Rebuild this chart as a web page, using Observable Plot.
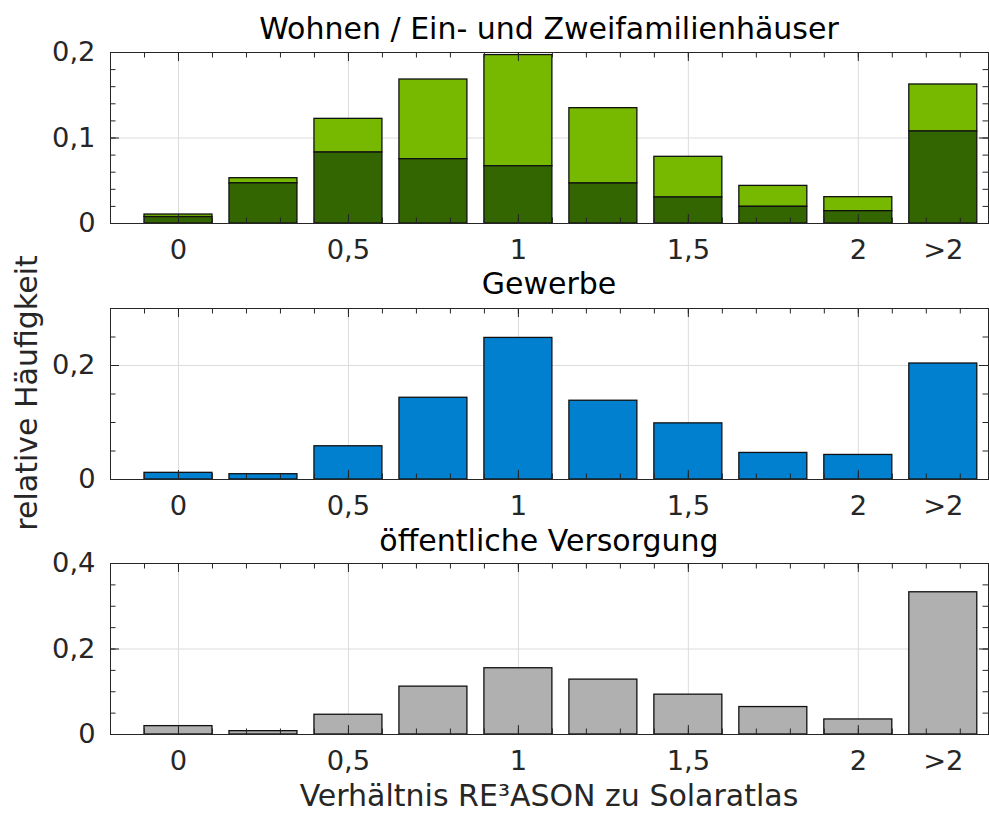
<!DOCTYPE html>
<html><head><meta charset="utf-8">
<script src="https://cdn.jsdelivr.net/npm/d3@7"></script>
<script src="https://cdn.jsdelivr.net/npm/@observablehq/plot@0.6"></script>
<style>
body{margin:0;background:#fff;}
#chart{position:relative;width:989px;height:814px;font-family:"DejaVu Sans",sans-serif;}
#chart svg{position:absolute;left:0;}
</style></head><body><div id="chart"></div>
<script>
// ---- data ----
const positions = [0, 0.25, 0.5, 0.75, 1, 1.25, 1.5, 1.75, 2, 2.25];
const xTickValues = [0, 0.5, 1, 1.5, 2, 2.25];
const xTickLabels = ["0", "0,5", "1", "1,5", "2", ">2"];
const wohnenLower = [0.0075, 0.047, 0.083, 0.0752, 0.067, 0.0468, 0.0304, 0.0195, 0.0144, 0.1076];
const wohnenTotal = [0.0105, 0.053, 0.1224, 0.1684, 0.197, 0.1349, 0.078, 0.044, 0.0308, 0.1626];
const gewerbe = [0.0117, 0.0093, 0.0583, 0.1434, 0.2484, 0.1382, 0.0985, 0.0466, 0.0431, 0.2035];
const oeffentlich = [0.0196, 0.0078, 0.0462, 0.112, 0.155, 0.1284, 0.0932, 0.0642, 0.0352, 0.3327];
const panelTitles = ["Wohnen / Ein- und Zweifamilienhäuser", "Gewerbe", "öffentliche Versorgung"];
const yLabel = "relative Häufigkeit";
const xLabel = "Verhältnis RE³ASON zu Solaratlas";
const yTicks1 = [0, 0.1, 0.2], yTickLabels1 = ["0", "0,1", "0,2"];
const yTicks2 = [0, 0.2], yTickLabels2 = ["0", "0,2"];
const yTicks3 = [0, 0.2, 0.4], yTickLabels3 = ["0", "0,2", "0,4"];

const colLight = "#77b800", colDark = "#336600", colBlue = "#0080cf", colGray = "#b0b0b0";
const axisCol = "#262626", gridCol = "#dcdcdc";
const W = 989, ML = 110, MR = 1, MT = 20, MB = 60;
const innerW = W - ML - MR;
const halfW = 0.1;

const chart = document.getElementById("chart");

function panel({top, bottom, ymax, yTicks, yTickLabels, yMinorStep, bars}) {
  const innerH = bottom - top;
  const H = innerH + MT + MB;
  const minorX = d3.range(-1, 24).map(i => i / 10);
  const minorY = d3.range(0, Math.round(ymax / yMinorStep) + 1).map(i => i * yMinorStep);
  const majLen = 9, minLen = 5.5;
  const p = Plot.plot({
    width: W, height: H,
    marginLeft: ML, marginRight: MR, marginTop: MT, marginBottom: MB,
    style: {fontFamily: "DejaVu Sans", fontSize: "27.3px", color: axisCol, background: "transparent", overflow: "visible"},
    x: {domain: [-0.2, 2.383]},
    y: {domain: [0, ymax]},
    marks: [
      Plot.ruleX([0, 0.5, 1, 1.5, 2], {stroke: gridCol, strokeWidth: 1}),
      Plot.ruleY(yTicks.filter(v => v > 0 && v < ymax), {stroke: gridCol, strokeWidth: 1}),
      ...bars,
      // x ticks bottom / top (inward)
      Plot.tickX(minorX, {x: d => d, insetTop: innerH - minLen, stroke: axisCol}),
      Plot.tickX(minorX, {x: d => d, insetBottom: innerH - minLen, stroke: axisCol}),
      Plot.tickX([0, 0.5, 1, 1.5, 2], {x: d => d, insetTop: innerH - majLen, stroke: axisCol}),
      Plot.tickX([0, 0.5, 1, 1.5, 2], {x: d => d, insetBottom: innerH - majLen, stroke: axisCol}),
      // y ticks left / right (inward)
      Plot.tickY(minorY, {y: d => d, insetRight: innerW - minLen, stroke: axisCol}),
      Plot.tickY(minorY, {y: d => d, insetLeft: innerW - minLen, stroke: axisCol}),
      Plot.tickY(yTicks, {y: d => d, insetRight: innerW - majLen, stroke: axisCol}),
      Plot.tickY(yTicks, {y: d => d, insetLeft: innerW - majLen, stroke: axisCol}),
      Plot.frame({stroke: axisCol, strokeWidth: 1}),
      Plot.axisX(xTickValues, {tickSize: 0, tickPadding: 16, fill: axisCol,
        tickFormat: d => xTickLabels[xTickValues.indexOf(d)], label: null}),
      Plot.axisY(yTicks, {tickSize: 0, tickPadding: 15, fill: axisCol,
        tickFormat: d => yTickLabels[yTicks.indexOf(d)], label: null})
    ]
  });
  p.style.top = (top - MT) + "px";
  chart.appendChild(p);
}

const barOpts = {stroke: "#111", strokeWidth: 1.3};
const rows1 = positions.map((x, i) => ({x, lower: wohnenLower[i], total: wohnenTotal[i]}));
const rows2 = positions.map((x, i) => ({x, v: gewerbe[i]}));
const rows3 = positions.map((x, i) => ({x, v: oeffentlich[i]}));

panel({top: 52, bottom: 223, ymax: 0.2, yTicks: yTicks1, yTickLabels: yTickLabels1, yMinorStep: 0.02,
  bars: [
    Plot.rectY(rows1, {x1: d => d.x - halfW, x2: d => d.x + halfW, y1: d => d.lower, y2: d => d.total, fill: colLight, ...barOpts}),
    Plot.rectY(rows1, {x1: d => d.x - halfW, x2: d => d.x + halfW, y1: 0, y2: d => d.lower, fill: colDark, ...barOpts})
  ]});
panel({top: 307.5, bottom: 478.5, ymax: 0.3, yTicks: yTicks2, yTickLabels: yTickLabels2, yMinorStep: 0.05,
  bars: [
    Plot.rectY(rows2, {x1: d => d.x - halfW, x2: d => d.x + halfW, y1: 0, y2: d => d.v, fill: colBlue, ...barOpts})
  ]});
panel({top: 563, bottom: 734, ymax: 0.4, yTicks: yTicks3, yTickLabels: yTickLabels3, yMinorStep: 0.05,
  bars: [
    Plot.rectY(rows3, {x1: d => d.x - halfW, x2: d => d.x + halfW, y1: 0, y2: d => d.v, fill: colGray, ...barOpts})
  ]});

// overlay texts
const svg = d3.select(chart).append("svg")
  .attr("width", W).attr("height", 814).style("top", "0px")
  .style("pointer-events", "none")
  .attr("font-family", "DejaVu Sans");
const cx = ML + innerW / 2;
const titleY = [39, 294, 551];
panelTitles.forEach((t, i) => {
  svg.append("text").attr("x", cx).attr("y", titleY[i]).attr("text-anchor", "middle")
    .attr("font-size", 30).attr("fill", "#000").text(t);
});
svg.append("text").attr("x", cx).attr("y", 806).attr("text-anchor", "middle")
  .attr("font-size", 30).attr("fill", axisCol).text(xLabel);
svg.append("text").attr("transform", "translate(37,393) rotate(-90)").attr("text-anchor", "middle")
  .attr("font-size", 30).attr("fill", axisCol).text(yLabel);
</script>
</body></html>
